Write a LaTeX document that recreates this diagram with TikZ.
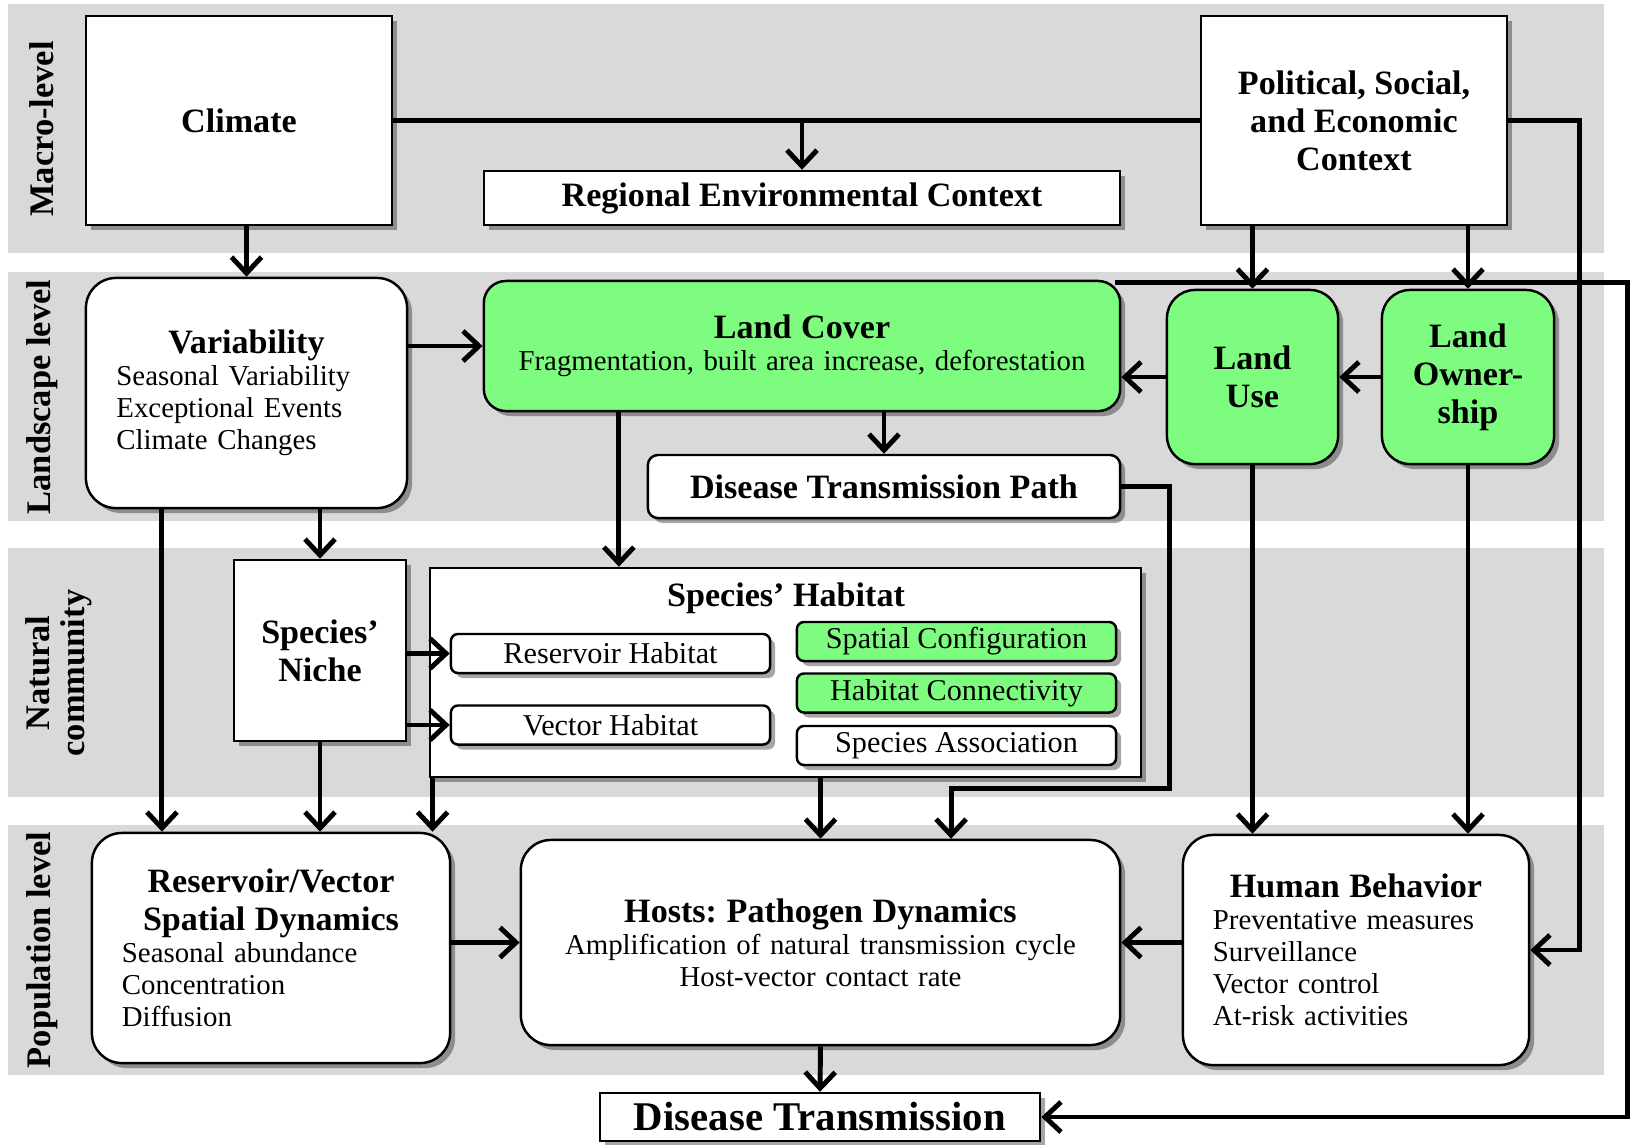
\documentclass[tikz,border=0pt]{standalone}
\usepackage{fontspec}
\setmainfont{Liberation Serif}
\usepackage{tikz}
\usetikzlibrary{arrows.meta,positioning,shadows,calc}
\definecolor{bandGray}{HTML}{D9D9D9}
\definecolor{landGreen}{HTML}{7DFC80}
\frenchspacing
\newcommand{\bigtitle}{\fontsize{11.6pt}{12.5pt}\selectfont\bfseries}
\newcommand{\boxtitle}{\fontsize{9.7pt}{10.8pt}\selectfont\bfseries}
\newcommand{\boxtext}{\fontsize{8.2pt}{9.1pt}\selectfont}
\newcommand{\subtext}{\fontsize{8.6pt}{9.1pt}\selectfont}
\newcommand{\lvltext}{\fontsize{9.8pt}{9.9pt}\selectfont\bfseries}
\tikzset{
  shd/.style={drop shadow={shadow xshift=0.05cm,shadow yshift=-0.05cm,
    opacity=0.35,fill=black}},
  wbox/.style={rectangle,draw=black,line width=0.7pt,fill=white,shd,
    align=center,inner sep=0pt,font=\boxtitle},
  rbox/.style={wbox,rounded corners=0.3cm},
  gbox/.style={rbox,fill=landGreen},
  subbox/.style={rectangle,rounded corners=0.07cm,draw=black,
    line width=0.7pt,fill=white,shd,minimum width=3.19cm,
    minimum height=0.39cm,inner sep=0pt,font=\subtext},
  subgbox/.style={subbox,fill=landGreen},
  band/.style={fill=bandGray},
  lvl/.style={rotate=90,align=center,font=\lvltext},
  arr/.style={-{Straight Barb[length=0.16cm,width=0.3cm]},line width=1.4pt},
  conn/.style={line width=1.4pt},
}
\begin{document}
\begin{tikzpicture}[x=0.01cm,y=-0.01cm]
  \useasboundingbox (0,0) rectangle (1630,1144);
  \fill[band] (8,4) rectangle (1604,253);
  \fill[band] (8,272) rectangle (1604,521);
  \fill[band] (8,548) rectangle (1604,797);
  \fill[band] (8,825) rectangle (1604,1075);

  \node[lvl] (macro) at (42,129) {Macro-level};
  \node[lvl] (landsc) at (42,397) {Landscape level};
  \node[lvl] (natcom) at (59,673) {Natural\\community};
  \node[lvl] (popul) at (42,950) {Population level};

  \node[wbox,minimum width=3.06cm,minimum height=2.09cm] (clim)
    at (239,120.5) {Climate};
  \node[wbox,minimum width=6.36cm,minimum height=0.54cm] (rec)
    at (802,198) {Regional Environmental Context};
  \node[wbox,minimum width=3.06cm,minimum height=2.09cm] (pol)
    at (1354,120.5) {Political, Social,\\and Economic\\Context};

  \node[rbox,minimum width=3.21cm,minimum height=2.3cm,text width=2.6cm,
    align=left,font=\boxtext] (var) at (246.5,393)
    {{\centering\boxtitle Variability\par}Seasonal Variability\\
     Exceptional Events\\Climate Changes};
  \node[gbox,rounded corners=0.22cm,minimum width=6.36cm,minimum height=1.3cm,
    text width=6.2cm,font=\boxtext] (lcov) at (802,346)
    {{\boxtitle Land Cover\par}Fragmentation, built area increase, deforestation};
  \node[gbox,rounded corners=0.28cm,minimum width=1.71cm,minimum height=1.74cm]
    (luse) at (1252.5,377) {Land\\Use};
  \node[gbox,rounded corners=0.28cm,minimum width=1.72cm,minimum height=1.74cm]
    (lown) at (1468,377) {Land\\Owner-\\ship};
  \node[rbox,rounded corners=0.1cm,minimum width=4.72cm,minimum height=0.63cm]
    (dtp) at (884,486.5) {Disease Transmission Path};

  \node[wbox,minimum width=1.72cm,minimum height=1.81cm] (niche)
    at (320,650.5) {Species'\\Niche};
  \node[wbox,minimum width=7.11cm,minimum height=2.09cm] (hab)
    at (785.5,672.5) {};
  \node[font=\boxtitle] (habttl) at (786,598) {Species' Habitat};
  \node[subbox] (resh) at (610.5,653.5) {Reservoir Habitat};
  \node[subbox,below=0.3cm of resh] (vech) {Vector Habitat};
  \node[subgbox] (spc) at (956.5,641.5) {Spatial Configuration};
  \node[subgbox,below=0.1cm of spc] (hcon) {Habitat Connectivity};
  \node[subbox,below=0.11cm of hcon] (sass) {Species Association};

  \node[rbox,minimum width=3.58cm,minimum height=2.3cm,text width=2.98cm,
    align=left,font=\boxtext] (rvsd) at (271,948)
    {{\centering\boxtitle Reservoir/Vector\\Spatial Dynamics\par}
     Seasonal abundance\\Concentration\\Diffusion};
  \node[rbox,minimum width=5.99cm,minimum height=2.05cm,text width=5.6cm,
    font=\boxtext] (host) at (820.5,942.5)
    {{\boxtitle Hosts: Pathogen Dynamics\par}
     Amplification of natural transmission cycle\\Host-vector contact rate};
  \node[rbox,minimum width=3.46cm,minimum height=2.3cm,text width=2.86cm,
    align=left,font=\boxtext] (hb) at (1356,950)
    {{\centering\boxtitle Human Behavior\par}Preventative measures\\
     Surveillance\\Vector control\\At-risk activities};
  \node[wbox,minimum width=4.4cm,minimum height=0.48cm,font=\bigtitle] (dt)
    at (820,1117) {Disease Transmission};

  \draw[conn] (clim.east) -- (pol.west);
  \draw[arr] (rec.north |- clim.east) -- (rec.north);
  \draw[arr] (var.north |- clim.south) -- (var.north);
  \draw[arr] (pol.east) -- ++(71,0) |- (hb.east);
  \draw[arr] (luse.north |- pol.south) -- (luse.north);
  \draw[arr] (lown.north |- pol.south) -- (lown.north);
  \draw[arr] (var.east |- lcov.west) -- (lcov.west);
  \draw[arr] (luse.west) -- (lcov.east |- luse.west);
  \draw[arr] (lown.west) -- (luse.east);
  \draw[arr] (dtp.north |- lcov.south) -- (dtp.north);
  \draw[arr] ([xshift=-1.83cm]lcov.south) -- ([xshift=-1.83cm]lcov.south |- hab.north);
  \draw[arr] ([xshift=-0.06cm,yshift=-0.03cm]lcov.north east) -- ++(512,0) |- (dt.east);
  \draw[arr] (dtp.east) -- ++(48,0) -- ++(0,302) -| ([xshift=1.305cm]host.north);
  \draw[arr] (niche.north |- var.south) -- (niche.north);
  \draw[arr] ([xshift=-0.845cm]var.south) -- ([xshift=-0.845cm]var.south |- rvsd.north);
  \draw[arr] (niche.south) -- (niche.south |- rvsd.north);
  \draw[arr] ([xshift=0.04cm]hab.south west) -- ([xshift=0.04cm]hab.south west |- rvsd.north);
  \draw[arr] (niche.east |- resh.west) -- (resh.west);
  \draw[arr] (niche.east |- vech.west) -- (vech.west);
  \draw[arr] (host.north |- hab.south) -- (host.north);
  \draw[arr] (luse.south) -- (luse.south |- hb.north);
  \draw[arr] (lown.south) -- (lown.south |- hb.north);
  \draw[arr] (rvsd.east |- host.west) -- (host.west);
  \draw[arr] (hb.west |- host.east) -- (host.east);
  \draw[arr] (host.south) -- (dt.north);
\end{tikzpicture}
\end{document}
